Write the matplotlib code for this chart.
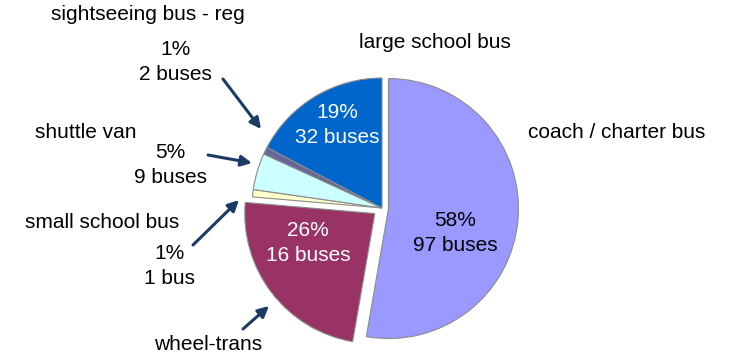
import matplotlib.pyplot as plt

plt.rcParams['font.family'] = ['Liberation Sans', 'DejaVu Sans']

# wedge order: clockwise from 12 o'clock
categories = ['coach / charter bus', 'wheel-trans', 'small school bus',
              'shuttle van', 'sightseeing bus - reg', 'large school bus']
percents = [58, 26, 1, 5, 1, 19]
bus_counts = ['97 buses', '16 buses', '1 bus', '9 buses', '2 buses', '32 buses']
colors = ['#9999FF', '#993366', '#FFFFCC', '#CCFFFF', '#666699', '#0066CC']

W, H = 730, 356
R = 130
# pie() takes explode offsets in data units, so scale by the radius
explode = [f * R for f in [0.05, 0.07, 0, 0, 0, 0]]

fig = plt.figure(figsize=(7.3, 3.56), dpi=100)
ax = fig.add_axes([0, 0, 1, 1])

ax.pie(percents, colors=colors, explode=explode, startangle=90,
       counterclock=False, center=(382, 148), radius=R, frame=True,
       wedgeprops=dict(edgecolor='#8c8c8c', linewidth=0.8))
ax.set_xlim(0, W)
ax.set_ylim(0, H)
ax.set_aspect('equal')
ax.axis('off')


def label(i):
    return f'{percents[i]}%\n{bus_counts[i]}'


txt = dict(fontsize=15, ha='center', va='center', linespacing=1.35)

# labels inside the big wedges
ax.text(455, H - 233, label(0), color='black', **txt)
ax.text(308, H - 243, label(1), color='white', **txt)
ax.text(337, H - 125, label(5), color='white', **txt)

# category names
ax.text(435, H - 43, categories[5], **txt)
ax.text(617, H - 132, categories[0], **txt)
ax.text(148, H - 15, categories[4], **txt)
ax.text(86, H - 133, categories[3], **txt)
ax.text(102, H - 223, categories[2], **txt)
ax.text(208, H - 345, categories[1], **txt)

# small-wedge values
ax.text(175, H - 62, label(4), **txt)
ax.text(170, H - 165, label(3), **txt)
ax.text(170, H - 266, label(2), **txt)

arrow = dict(arrowstyle='-|>', color='#1B3A66', lw=2.2, mutation_scale=16,
             shrinkA=0, shrinkB=0)
for start, end in [((223, 79), (261, 129)),
                   ((208, 155), (252, 163)),
                   ((193, 245), (239, 200)),
                   ((243, 329), (269, 306))]:
    ax.annotate('', xy=(end[0], H - end[1]), xytext=(start[0], H - start[1]),
                arrowprops=arrow)

fig.savefig('out.png', dpi=100)
